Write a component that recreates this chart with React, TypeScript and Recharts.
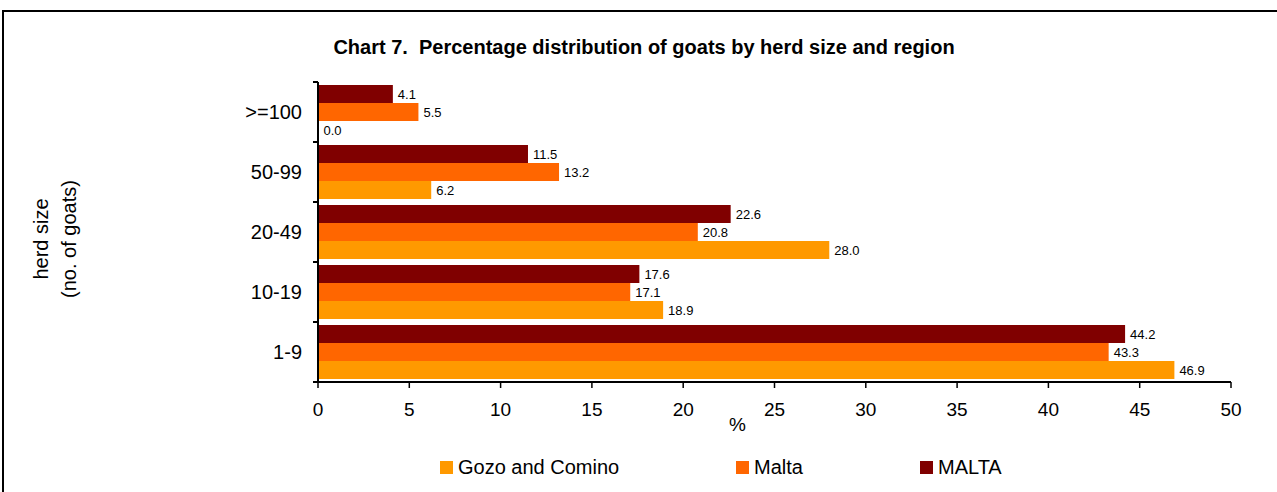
import React from "react";
import { Bar, BarChart, LabelList, Legend, XAxis, YAxis } from "recharts";

const SIZES = [">=100", "50-99", "20-49", "10-19", "1-9"];
const GOZO = [0.0, 6.2, 28.0, 18.9, 46.9];
const MALTA_ISLAND = [5.5, 13.2, 20.8, 17.1, 43.3];
const MALTA_TOTAL = [4.1, 11.5, 22.6, 17.6, 44.2];
const X_TICKS = [0, 5, 10, 15, 20, 25, 30, 35, 40, 45, 50];

const COLORS = { gozo: "#FF9900", malta: "#FF6600", total: "#800000" };
const FONT = "Arial, 'Liberation Sans', sans-serif";

const data = SIZES.map((size, i) => ({
  size,
  gozo: GOZO[i],
  malta: MALTA_ISLAND[i],
  total: MALTA_TOTAL[i]
}));

const LEGEND_ITEMS = [
  { key: "gozo", name: "Gozo and Comino", left: 440 },
  { key: "malta", name: "Malta", left: 736 },
  { key: "total", name: "MALTA", left: 920 }
];

const fmt = (v: any) => Number(v).toFixed(1);

// category ticks sit between the groups, like the original
const YTick = (props: any) => {
  const { x, y, payload, index } = props;
  const half = payload.offset || 0;
  const last = index === SIZES.length - 1;
  return (
    <g>
      <line x1={x + 3} x2={x + 8} y1={y - half} y2={y - half} stroke="#000" strokeWidth={2} />
      {last && (
        <line x1={x + 3} x2={x + 8} y1={y + half} y2={y + half} stroke="#000" strokeWidth={2} />
      )}
      <text x={x - 8} y={y} dy={7} textAnchor="end" fontSize={20} fontFamily={FONT} fill="#000">
        {payload.value}
      </text>
    </g>
  );
};

const renderLegend = () => (
  <div style={{ position: "relative", height: 22, width: 1277 }}>
    {LEGEND_ITEMS.map((item) => (
      <div
        key={item.key}
        style={{
          position: "absolute",
          left: item.left,
          top: 0,
          display: "flex",
          alignItems: "center",
          fontFamily: FONT,
          fontSize: 20,
          lineHeight: "22px",
          color: "#000"
        }}
      >
        <span
          style={{
            display: "inline-block",
            width: 13,
            height: 13,
            background: (COLORS as any)[item.key],
            marginRight: 5
          }}
        />
        {item.name}
      </div>
    ))}
  </div>
);

const App = () => {
  return (
    <div style={{ position: "absolute", left: 0, top: 0, width: 1277, height: 492, background: "#fff" }}>
      <div
        style={{
          position: "absolute",
          left: 2,
          top: 10,
          width: 1300,
          height: 500,
          borderLeft: "2px solid #000",
          borderTop: "2px solid #000"
        }}
      />
      <BarChart
        width={1277}
        height={492}
        data={data}
        layout="vertical"
        margin={{ top: 82, right: 46, bottom: 14, left: 238 }}
        barCategoryGap={3}
        barGap={0}
        style={{ position: "absolute", left: 0, top: 0 }}
      >
        <text x={644} y={54} textAnchor="middle" fontSize={20} fontWeight="bold" fontFamily={FONT} fill="#000">
          {"Chart 7.\u00a0 Percentage distribution of goats by herd size and region"}
        </text>
        <text
          x={48}
          y={239}
          transform="rotate(-90 48 239)"
          textAnchor="middle"
          fontSize={20}
          fontFamily={FONT}
          fill="#000"
        >
          herd size
        </text>
        <text
          x={76}
          y={239}
          transform="rotate(-90 76 239)"
          textAnchor="middle"
          fontSize={20}
          fontFamily={FONT}
          fill="#000"
        >
          (no. of goats)
        </text>
        <XAxis
          type="number"
          domain={[0, 50]}
          ticks={X_TICKS}
          interval={0}
          height={74}
          axisLine={{ stroke: "#000", strokeWidth: 2 }}
          tickLine={{ stroke: "#000", strokeWidth: 1.5 }}
          tickSize={6}
          tickMargin={15}
          tick={{ fontSize: 19, fontFamily: FONT, fill: "#000" }}
          label={{
            value: "%",
            position: "insideTop",
            offset: 36,
            dx: -37,
            fontSize: 19,
            fontFamily: FONT,
            fill: "#000"
          }}
        />
        <YAxis
          type="category"
          dataKey="size"
          width={80}
          axisLine={{ stroke: "#000", strokeWidth: 2 }}
          tickLine={false}
          tick={<YTick />}
        />
        <Bar dataKey="total" name="MALTA" fill={COLORS.total} minPointSize={0.5} isAnimationActive={false}>
          <LabelList dataKey="total" position="right" offset={5} formatter={fmt} fontSize={13} fontFamily={FONT} fill="#000" />
        </Bar>
        <Bar dataKey="malta" name="Malta" fill={COLORS.malta} minPointSize={0.5} isAnimationActive={false}>
          <LabelList dataKey="malta" position="right" offset={5} formatter={fmt} fontSize={13} fontFamily={FONT} fill="#000" />
        </Bar>
        <Bar dataKey="gozo" name="Gozo and Comino" fill={COLORS.gozo} minPointSize={0.5} isAnimationActive={false}>
          <LabelList dataKey="gozo" position="right" offset={5} formatter={fmt} fontSize={13} fontFamily={FONT} fill="#000" />
        </Bar>
        <Legend verticalAlign="bottom" content={renderLegend} wrapperStyle={{ left: 0, width: 1277 }} />
      </BarChart>
    </div>
  );
};

export default App;
